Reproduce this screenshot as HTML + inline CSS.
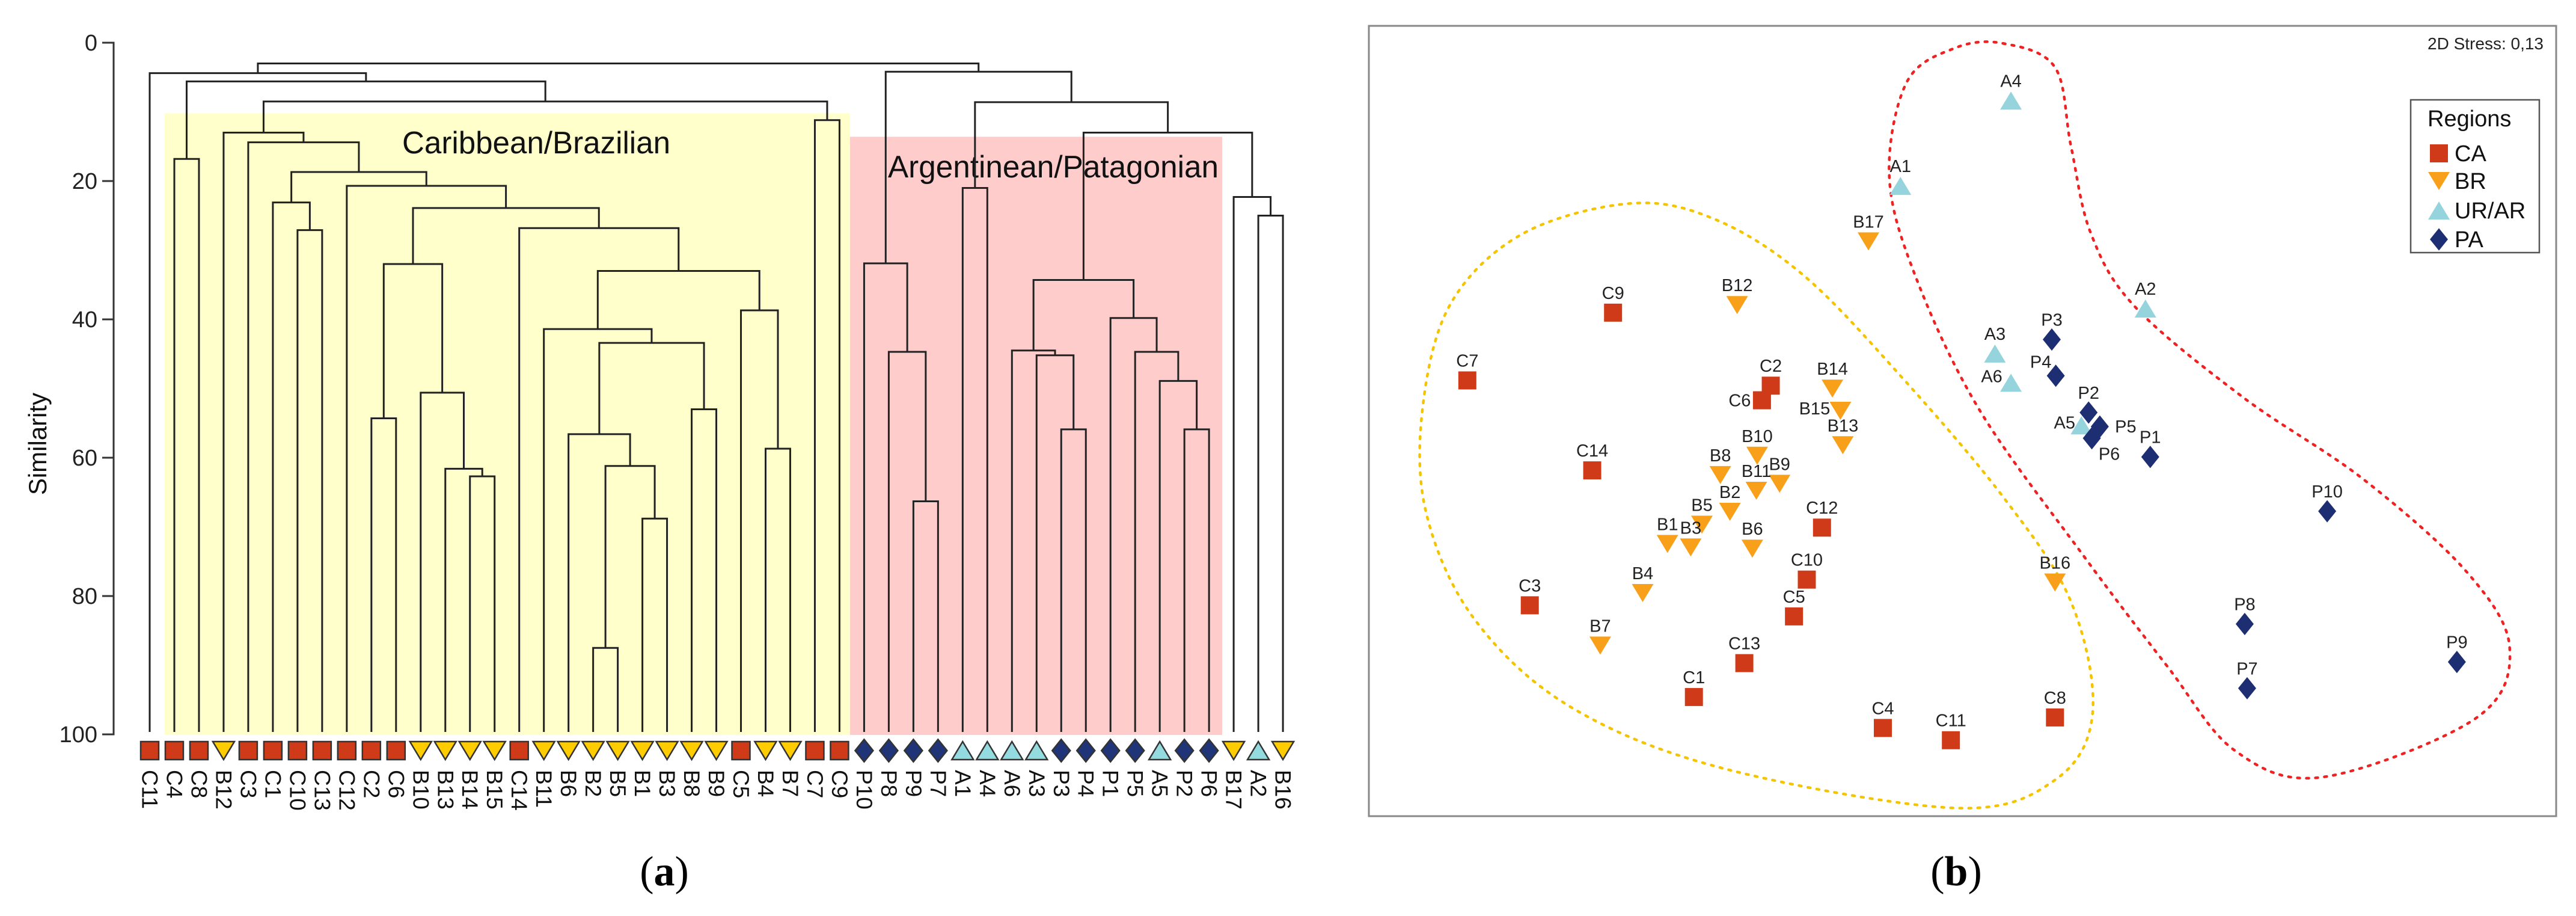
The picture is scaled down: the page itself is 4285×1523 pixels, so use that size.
<!DOCTYPE html>
<html><head><meta charset="utf-8">
<style>
html,body{margin:0;padding:0;background:#fff;}
svg{display:block;}
text{font-family:"Liberation Sans",sans-serif;}
</style></head>
<body>
<svg id="fig" width="4285" height="1523" viewBox="0 0 4285 1523" xmlns="http://www.w3.org/2000/svg">
  <g id="panelA"></g>
  <g id="panelB"></g>
</svg>
<script>
// ---------- Panel (a) dendrogram data ----------
const leafNames = ["C11","C4","C8","B12","C3","C1","C10","C13","C12","C2","C6","B10","B13","B14","B15","C14","B11","B6","B2","B5","B1","B3","B8","B9","C5","B4","B7","C7","C9","P10","P8","P9","P7","A1","A4","A6","A3","P3","P4","P1","P5","A5","P2","P6","B17","A2","B16"];
const leafRegions = ["CA","CA","CA","BR","CA","CA","CA","CA","CA","CA","CA","BR","BR","BR","BR","CA","BR","BR","BR","BR","BR","BR","BR","BR","CA","BR","BR","CA","CA","PA","PA","PA","PA","UA","UA","UA","UA","PA","PA","PA","PA","UA","PA","PA","BR","UA","BR"];
const mergeLeft  = ["C4","C10","C1","C2","B14","B13","B10","n3","B2","B1","n8","B6","B8","n11","B11","B4","C5","n14","C14","n7","C12","n2","C3","B12","C7","n23","n0","C11","P9","P8","P10","A1","P3","A3","A6","P2","A5","P5","P1","n34","A2","B17","n39","n31","n30","n27"];
const mergeRight = ["C8","C13","n1","C6","B15","n4","n5","n6","B5","B3","n9","n10","B9","n12","n13","B7","n15","n16","n17","n18","n19","n20","n21","n22","C9","n24","n25","n26","P7","n28","n29","A4","P4","n32","n33","P6","n35","n36","n37","n38","B16","n40","n41","n42","n43","n44"];
const mergeHeight = [16.8,27.1,23.1,54.3,62.7,61.6,50.6,32.0,87.5,68.8,61.2,56.6,53.0,43.4,41.4,58.7,38.7,33.0,26.8,23.9,20.7,18.7,14.4,13.0,11.2,8.5,5.6,4.4,66.3,44.7,31.9,21.0,55.9,45.2,44.5,55.9,48.9,44.7,39.8,34.3,25.0,22.3,13.0,8.6,4.2,3.0];
const yTicks = [0,20,40,60,80,100];

// ---------- Panel (b) NMDS data ----------
const mdsNames = ["A4","A1","B17","A2","C9","B12","C7","A3","P3","P4","A6","C2","C6","B14","B15","A5","P2","P5","P6","P1","B13","B10","C14","B8","B9","B11","B2","B5","C12","B1","B3","B6","P10","C10","B16","C3","B4","C5","B7","C13","P8","P9","P7","C1","C8","C4","C11"];
const mdsRegions = ["UA","UA","BR","UA","CA","BR","CA","UA","PA","PA","UA","CA","CA","BR","BR","UA","PA","PA","PA","PA","BR","BR","CA","BR","BR","BR","BR","BR","CA","BR","BR","BR","PA","CA","BR","CA","BR","CA","BR","CA","PA","PA","PA","CA","CA","CA","CA"];
const mdsX = [860,722,682,1028,363,518,181,840,911,916,860,560,549,637,647,948,957,971,961,1034,650,543,337,497,571,542,509,474,624,431,460,537,1255,605,915,259,400,589,347,527,1152,1417,1155,464,915,700,785];
const mdsY = [172,318,413,528,535,522,651,605,581,643,655,660,685,665,703,728,706,730,750,782,762,780,805,813,828,840,876,898,903,931,937,939,875,992,997,1036,1015,1055,1105,1135,1068,1133,1178,1193,1228,1246,1267];

const NS="http://www.w3.org/2000/svg";
function mk(tag, attrs, parent){const e=document.createElementNS(NS,tag);for(const k in attrs)e.setAttribute(k,attrs[k]);parent.appendChild(e);return e;}

// ===== Panel A =====
const A=document.getElementById('panelA');
const leafX0=249, leafDX=40.98;
const yS = s => 71 + s*11.5;
const xLeaf = i => leafX0 + i*leafDX;

let r=mk('rect',{x:274,y:yS(10.2),width:1414-274,height:1222-yS(10.2),fill:'#ffffcc'},A);


r=mk('rect',{x:1414,y:yS(13.6),width:2033-1414,height:1222-yS(13.6),fill:'#ffcccc'},A);



let t=mk('text',{x:892,y:255,'font-size':52,'text-anchor':'middle',fill:'#111',textLength:446,lengthAdjust:'spacingAndGlyphs'},A);
t.textContent='Caribbean/Brazilian';


t=mk('text',{x:1752,y:295,'font-size':52,'text-anchor':'middle',fill:'#111',textLength:550,lengthAdjust:'spacingAndGlyphs'},A);
t.textContent='Argentinean/Patagonian';



let ax=mk('path',{d:`M170 ${yS(0)} H189 V${yS(100)} H170`,fill:'none',stroke:'#333','stroke-width':3},A);


yTicks.forEach(v=>{
  const tk=mk('line',{x1:170,x2:189,y1:yS(v),y2:yS(v),stroke:'#333','stroke-width':3},A);
  
  
  const tl=mk('text',{x:162,y:yS(v)+13,'font-size':38,'text-anchor':'end',fill:'#222'},A);
  tl.textContent=v;
  
  
});
t=mk('text',{x:0,y:0,'font-size':42,'text-anchor':'middle',fill:'#111',transform:'translate(77,738) rotate(-90)'},A);
t.textContent='Similarity';



const pos={};
leafNames.forEach((n,i)=>{pos[n]={x:xLeaf(i),y:yS(100)-4};});
const links=mk('g',{stroke:'#222','stroke-width':3,fill:'none'},A);


mergeLeft.forEach((L,k)=>{
  const a=pos[L], b=pos[mergeRight[k]], h=yS(mergeHeight[k]);
  if(!a||!b) return;
  const p=mk('path',{d:`M${a.x} ${a.y} V${h} H${b.x} V${b.y}`},links);
  
  
  pos['n'+k]={x:(a.x+b.x)/2,y:h};
});

const fillA={CA:'#cf3b18',BR:'#ffcc00',UA:'#94dbe0',PA:'#1f3577'};
function marker(g,reg,cx,cy,s,fill,stroke){
  let e;
  if(reg==='CA') e=mk('rect',{x:cx-s/2,y:cy-s/2,width:s,height:s},g);
  else if(reg==='BR') e=mk('polygon',{points:`${cx-s*0.6},${cy-s/2} ${cx+s*0.6},${cy-s/2} ${cx},${cy+s/2}`},g);
  else if(reg==='UA') e=mk('polygon',{points:`${cx-s*0.6},${cy+s/2} ${cx+s*0.6},${cy+s/2} ${cx},${cy-s/2}`},g);
  else e=mk('polygon',{points:`${cx},${cy-s*0.62} ${cx+s*0.5},${cy} ${cx},${cy+s*0.62} ${cx-s*0.5},${cy}`},g);
  e.setAttribute('fill',fill);
  if(stroke){e.setAttribute('stroke',stroke);e.setAttribute('stroke-width',2.5);}
  return e;
}
leafNames.forEach((n,i)=>{
  const m=marker(A,leafRegions[i],xLeaf(i),1248,30,fillA[leafRegions[i]],'#333');
  
  
  const lt=mk('text',{x:0,y:0,'font-size':37,fill:'#111','dominant-baseline':'central',transform:`translate(${xLeaf(i)},1280) rotate(90)`},A);
  lt.textContent=n;
  
  
});

t=mk('text',{x:1105,y:1472,'font-size':70,'text-anchor':'middle',fill:'#000',style:'font-family:"Liberation Serif",serif'},A);
t.innerHTML='(<tspan font-weight="bold">a</tspan>)';



// ===== Panel B =====
const B=document.getElementById('panelB');
const bx0=2277,bx1=4252,by0=43,by1=1357;
const xM = v => bx0 + (v-58)/(1541-58)*(bx1-bx0);
const yM = v => by0 + (v-44)/(1397-44)*(by1-by0);
let box=mk('rect',{x:bx0,y:by0,width:bx1-bx0,height:by1-by0,fill:'#fff',stroke:'#888','stroke-width':3},B);



t=mk('text',{x:4231,y:82,'font-size':28,'text-anchor':'end',fill:'#222'},B);
t.textContent='2D Stress: 0,13';



function contour(pts,color,name){
  let d='';
  const P=pts.map(p=>[xM(p[0]),yM(p[1])]);
  const n=P.length;
  for(let i=0;i<n;i++){
    const p0=P[(i-1+n)%n],p1=P[i],p2=P[(i+1)%n],p3=P[(i+2)%n];
    if(i===0)d+=`M${p1[0]} ${p1[1]}`;
    const c1=[p1[0]+(p2[0]-p0[0])/6,p1[1]+(p2[1]-p0[1])/6];
    const c2=[p2[0]-(p3[0]-p1[0])/6,p2[1]-(p3[1]-p1[1])/6];
    d+=` C${c1[0]} ${c1[1]} ${c2[0]} ${c2[1]} ${p2[0]} ${p2[1]}`;
  }
  const e=mk('path',{d:d+'Z',fill:'none',stroke:color,'stroke-width':4.5,'stroke-dasharray':'4 11','stroke-linecap':'round'},B);
  
  
}
contour([[385,348],[250,400],[160,520],[125,700],[130,880],[190,1060],[310,1210],[500,1315],[790,1383],[915,1335],[962,1220],[935,1030],[850,850],[720,640],[600,470],[490,375]],'#f5c400','caribbean-brazilian-contour');
contour([[850,74],[915,115],[935,250],[960,400],[1015,525],[1150,680],[1300,820],[1430,980],[1483,1110],[1440,1230],[1250,1330],[1140,1285],[1055,1140],[950,950],[820,700],[740,470],[708,300],[730,140],[790,82]],'#ee2222','argentinean-patagonian-contour');

const fillB={CA:'#cf3b18',BR:'#f9a01b',UA:'#95d4dc',PA:'#1d2f72'};
const labelOff={C6:[-37,10],B15:[-43,6],A5:[-28,5],P5:[43,10],P6:[29,36],A6:[-32,-1],P4:[-25,-13]};
mdsNames.forEach((n,i)=>{
  const cx=xM(mdsX[i]), cy=yM(mdsY[i]);
  const m=marker(B,mdsRegions[i],cx,cy,30,fillB[mdsRegions[i]],null);
  
  
  const o=labelOff[n]||[0,-23];
  const lt=mk('text',{x:cx+o[0],y:cy+o[1],'font-size':29,'text-anchor':'middle',fill:'#222'},B);
  lt.textContent=n;
  
  
});

const lg=mk('g',{},B);


mk('rect',{x:4010,y:166,width:214,height:254,fill:'#fff',stroke:'#555','stroke-width':2.5},lg);
t=mk('text',{x:4038,y:210,'font-size':38,fill:'#111'},lg);
t.textContent='Regions';


const legRegions=["CA","BR","UA","PA"];
const legLabels=["CA","BR","UR/AR","PA"];
const legY=[255,301,350,398];
legRegions.forEach((rg,i)=>{
  const m=marker(lg,rg,4057,legY[i],30,fillB[rg],null);
  
  
  const tt=mk('text',{x:4083,y:legY[i]+13,'font-size':38,fill:'#111'},lg);
  tt.textContent=legLabels[i];
  
  
});

t=mk('text',{x:3254,y:1472,'font-size':70,'text-anchor':'middle',fill:'#000',style:'font-family:"Liberation Serif",serif'},B);
t.innerHTML='(<tspan font-weight="bold">b</tspan>)';


</script>
</body></html>
